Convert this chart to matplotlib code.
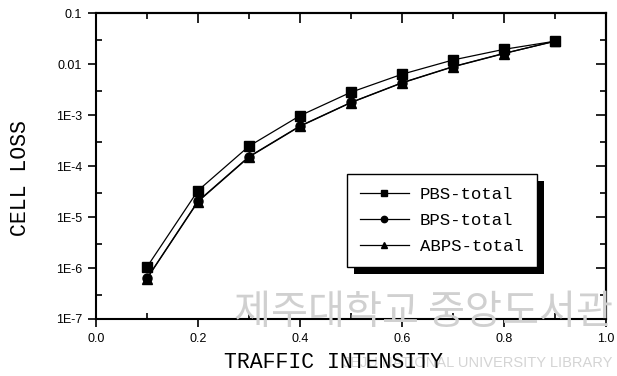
import matplotlib.pyplot as plt
from matplotlib.ticker import FixedLocator, FixedFormatter, NullFormatter
import matplotlib.patheffects as pe

# datos
intensidad = [0.1, 0.2, 0.3, 0.4, 0.5, 0.6, 0.7, 0.8, 0.9]
pbs_total = [1.05e-6, 3.3e-5, 2.45e-4, 9.7e-4, 2.8e-3, 6.3e-3, 0.012, 0.0194, 0.028]
bps_total = [6.3e-7, 2.05e-5, 1.53e-4, 6.1e-4, 1.77e-3, 4.3e-3, 0.0089, 0.0162, 0.0278]
abps_total = [6.2e-7, 2.0e-5, 1.5e-4, 6.0e-4, 1.75e-3, 4.25e-3, 0.0088, 0.016, 0.0282]

y_ticks = [1e-7, 1e-6, 1e-5, 1e-4, 1e-3, 1e-2, 1e-1]
y_labels = ['1E-7', '1E-6', '1E-5', '1E-4', '1E-3', '0.01', '0.1']
x_ticks = [0.0, 0.2, 0.4, 0.6, 0.8, 1.0]
x_labels = ['0.0', '0.2', '0.4', '0.6', '0.8', '1.0']
x_minor = [0.1, 0.3, 0.5, 0.7, 0.9]
y_minor = [3e-7, 3e-6, 3e-5, 3e-4, 3e-3, 3e-2]

fig = plt.figure(figsize=(6.17, 3.76), dpi=100)
ax = fig.add_axes([0.1556, 0.1516, 0.8266, 0.8138])

# marca de agua
fig.text(0.686, 0.17, '제주대학교 중앙도서관', fontsize=29, color='#d0d0d0',
         family=['Noto Sans CJK KR', 'DejaVu Sans'], ha='center', va='center', zorder=0)
fig.text(0.992, 0.035, 'JEJU NATIONAL UNIVERSITY LIBRARY', fontsize=10.5, color='#d4d4d4',
         family='Liberation Sans', ha='right', va='center', zorder=0)

ax.set_facecolor('none')
ax.plot(intensidad, pbs_total, color='black', lw=0.9, marker='s', ms=6.5, label='PBS-total')
ax.plot(intensidad, bps_total, color='black', lw=0.9, marker='o', ms=6.5, label='BPS-total')
ax.plot(intensidad, abps_total, color='black', lw=0.9, marker='^', ms=6.5, label='ABPS-total')

ax.set_yscale('log')
ax.set_xlim(0.0, 1.0)
ax.set_ylim(1e-7, 0.1)

ax.yaxis.set_major_locator(FixedLocator(y_ticks))
ax.yaxis.set_major_formatter(FixedFormatter(y_labels))
ax.yaxis.set_minor_locator(FixedLocator(y_minor))
ax.yaxis.set_minor_formatter(NullFormatter())
ax.xaxis.set_major_locator(FixedLocator(x_ticks))
ax.xaxis.set_major_formatter(FixedFormatter(x_labels))
ax.xaxis.set_minor_locator(FixedLocator(x_minor))

ax.tick_params(which='major', direction='out', length=6, width=1.2, labelsize=9,
               labelfontfamily='Liberation Sans', pad=4)
ax.tick_params(which='minor', direction='in', length=4, width=1.2)
for s in ax.spines.values():
    s.set_linewidth(1.5)

# ticks de arriba y derecha hacia dentro
top = ax.secondary_xaxis('top')
top.xaxis.set_major_locator(FixedLocator(x_ticks))
top.xaxis.set_minor_locator(FixedLocator(x_minor))
top.tick_params(which='major', direction='in', length=7, width=1.2, labeltop=False)
top.tick_params(which='minor', direction='in', length=4, width=1.2)
top.spines['top'].set_linewidth(1.5)
right = ax.secondary_yaxis('right')
right.yaxis.set_major_locator(FixedLocator(y_ticks))
right.yaxis.set_minor_locator(FixedLocator(y_minor))
right.yaxis.set_minor_formatter(NullFormatter())
right.tick_params(which='major', direction='in', length=7, width=1.2, labelright=False)
right.tick_params(which='minor', direction='in', length=4, width=1.2)
right.spines['right'].set_linewidth(1.5)

fig.text(0.541, 0.037, 'TRAFFIC INTENSITY', family='Liberation Mono', fontsize=15.5,
         ha='center', va='center')
fig.text(0.034, 0.527, 'CELL LOSS', family='Liberation Mono', fontsize=15.5,
         rotation=90, ha='center', va='center')

leg = ax.legend(loc='upper left', bbox_to_anchor=(0.5624, 0.5372),
                bbox_transform=fig.transFigure, borderaxespad=0, frameon=True,
                fancybox=False, shadow=False, edgecolor='black', framealpha=1,
                prop={'family': 'Liberation Mono', 'size': 12.5}, markerscale=0.7,
                handlelength=2.8, handletextpad=0.65, borderpad=0.75, labelspacing=0.62)
leg.get_frame().set_linewidth(1.0)
leg.get_frame().set_path_effects([pe.SimplePatchShadow(offset=(5, -5), shadow_rgbFace='black', alpha=1),
                                  pe.Normal()])

fig.savefig('out.png', dpi=100)
